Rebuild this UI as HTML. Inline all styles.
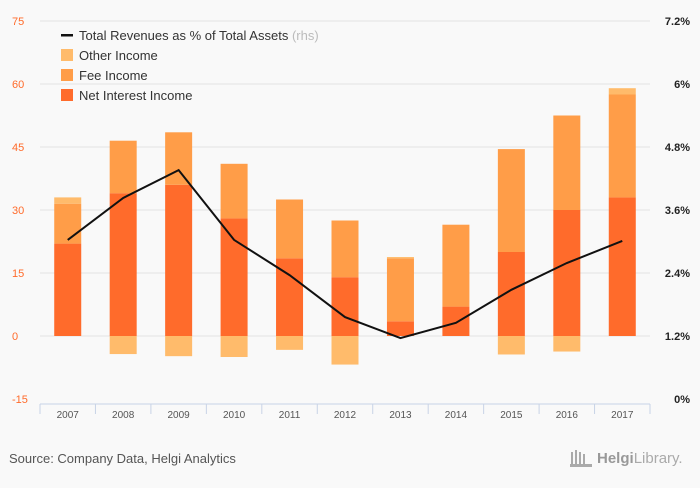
<!DOCTYPE html>
<html><head><meta charset="utf-8"><style>
body{margin:0;background:#f9f9f9;font-family:"Liberation Sans",sans-serif}
svg text{font-family:"Liberation Sans",sans-serif}
</style></head><body>
<svg id="c" width="700" height="483" xmlns="http://www.w3.org/2000/svg">
<rect width="700" height="483" fill="#f9f9f9"/>
<g id="grid"></g><g id="bars"></g><g id="line"></g><g id="axes"></g>
<g font-size="13" fill="#333">
<g><rect x="61" y="34" width="12" height="2.5" fill="#111"/><text x="79" y="40">Total Revenues as % of Total Assets <tspan fill="#bbb">(rhs)</tspan></text></g>
<g><rect x="61" y="49" width="12" height="12" fill="#ffbb6b"/><text x="79" y="60">Other Income</text></g>
<g><rect x="61" y="69" width="12" height="12" fill="#ff9d48"/><text x="79" y="80">Fee Income</text></g>
<g><rect x="61" y="89" width="12" height="12" fill="#ff6b2b"/><text x="79" y="100">Net Interest Income</text></g>
</g>
<text x="9" y="463" font-size="13" fill="#555">Source: Company Data, Helgi Analytics</text>
<text x="597" y="463" font-size="15" fill="#aaa"><tspan font-weight="bold" fill="#999">Helgi</tspan>Library.</text>
<g fill="#aaa"><rect x="571" y="452" width="2" height="14"/><rect x="575" y="450" width="2" height="16"/><rect x="579" y="452" width="2" height="14"/><rect x="583" y="454" width="2" height="12"/><rect x="570" y="464" width="22" height="3"/></g>
</svg>
<script>
const categories=["2007","2008","2009","2010","2011","2012","2013","2014","2015","2016","2017"];
const netInterest=[22,34,36,28,18.5,14,3.5,7,20,30,33];
const feeIncome=[9.5,12.5,12.5,13,14,13.5,15,19.5,24.5,22.5,24.5];
const otherIncome=[1.5,-4.3,-4.8,-5,-3.3,-6.8,0.3,0,-4.4,-3.7,1.5];
const revenuesPct=[3.03,3.83,4.36,3.03,2.36,1.56,1.16,1.45,2.08,2.59,3.01];
const leftTicks=[-15,0,15,30,45,60,75];
const rightTicks=[0,1.2,2.4,3.6,4.8,6,7.2];
const NS="http://www.w3.org/2000/svg";
const X0=40,X1=650,YT=21,YB=399;
const band=(X1-X0)/categories.length;
const xc=i=>X0+band*(i+0.5);
const yL=v=>YB-(v+15)/90*(YB-YT);
const yR=v=>YB-v/7.2*(YB-YT);
function mk(tag,attrs,parent){const e=document.createElementNS(NS,tag);for(const k in attrs)e.setAttribute(k,attrs[k]);document.getElementById(parent).appendChild(e);return e;}
leftTicks.forEach((t,i)=>{
 if(t!==-15){const g=mk("line",{x1:X0,x2:X1,y1:yL(t),y2:yL(t),stroke:"#e2e2e2"},"grid");
 
 }
 const l=mk("text",{x:12,y:yL(t)+4,"font-size":11,fill:"#ff6b2b"},"axes");l.textContent=t;
 
 
});
rightTicks.forEach(t=>{
 const l=mk("text",{x:690,y:yR(t)+4,"font-size":11,fill:"#222","text-anchor":"end","font-weight":"bold"},"axes");l.textContent=(t===0?"0":t===6?"6":t.toFixed(1))+"%";
 
 
});
const ax=mk("line",{x1:X0,x2:X1,y1:YB+5,y2:YB+5,stroke:"#c8d3e6"},"axes");


for(let i=0;i<=categories.length;i++){const tk=mk("line",{x1:X0+band*i,x2:X0+band*i,y1:YB+5,y2:YB+15,stroke:"#c8d3e6"},"axes");
 
 }
categories.forEach((c,i)=>{
 const l=mk("text",{x:xc(i),y:YB+19,"font-size":10,fill:"#555","text-anchor":"middle"},"axes");l.textContent=c;
 
 
 const w=27,x=xc(i)-w/2;
 function bar(a,b,col,name){const r=mk("rect",{x:x,width:w,y:Math.min(yL(a),yL(b)),height:Math.abs(yL(a)-yL(b)),fill:col},"bars");
  
  }
 bar(0,netInterest[i],"#ff6b2b","net-interest-bar");
 bar(netInterest[i],netInterest[i]+feeIncome[i],"#ff9d48","fee-income-bar");
 if(otherIncome[i]>=0)bar(netInterest[i]+feeIncome[i],netInterest[i]+feeIncome[i]+otherIncome[i],"#ffbb6b","other-income-bar");
 else bar(0,otherIncome[i],"#ffbb6b","other-income-bar");
});
const p=mk("polyline",{points:revenuesPct.map((v,i)=>xc(i)+","+yR(v)).join(" "),fill:"none",stroke:"#111","stroke-width":2},"line");


</script>
</body></html>
